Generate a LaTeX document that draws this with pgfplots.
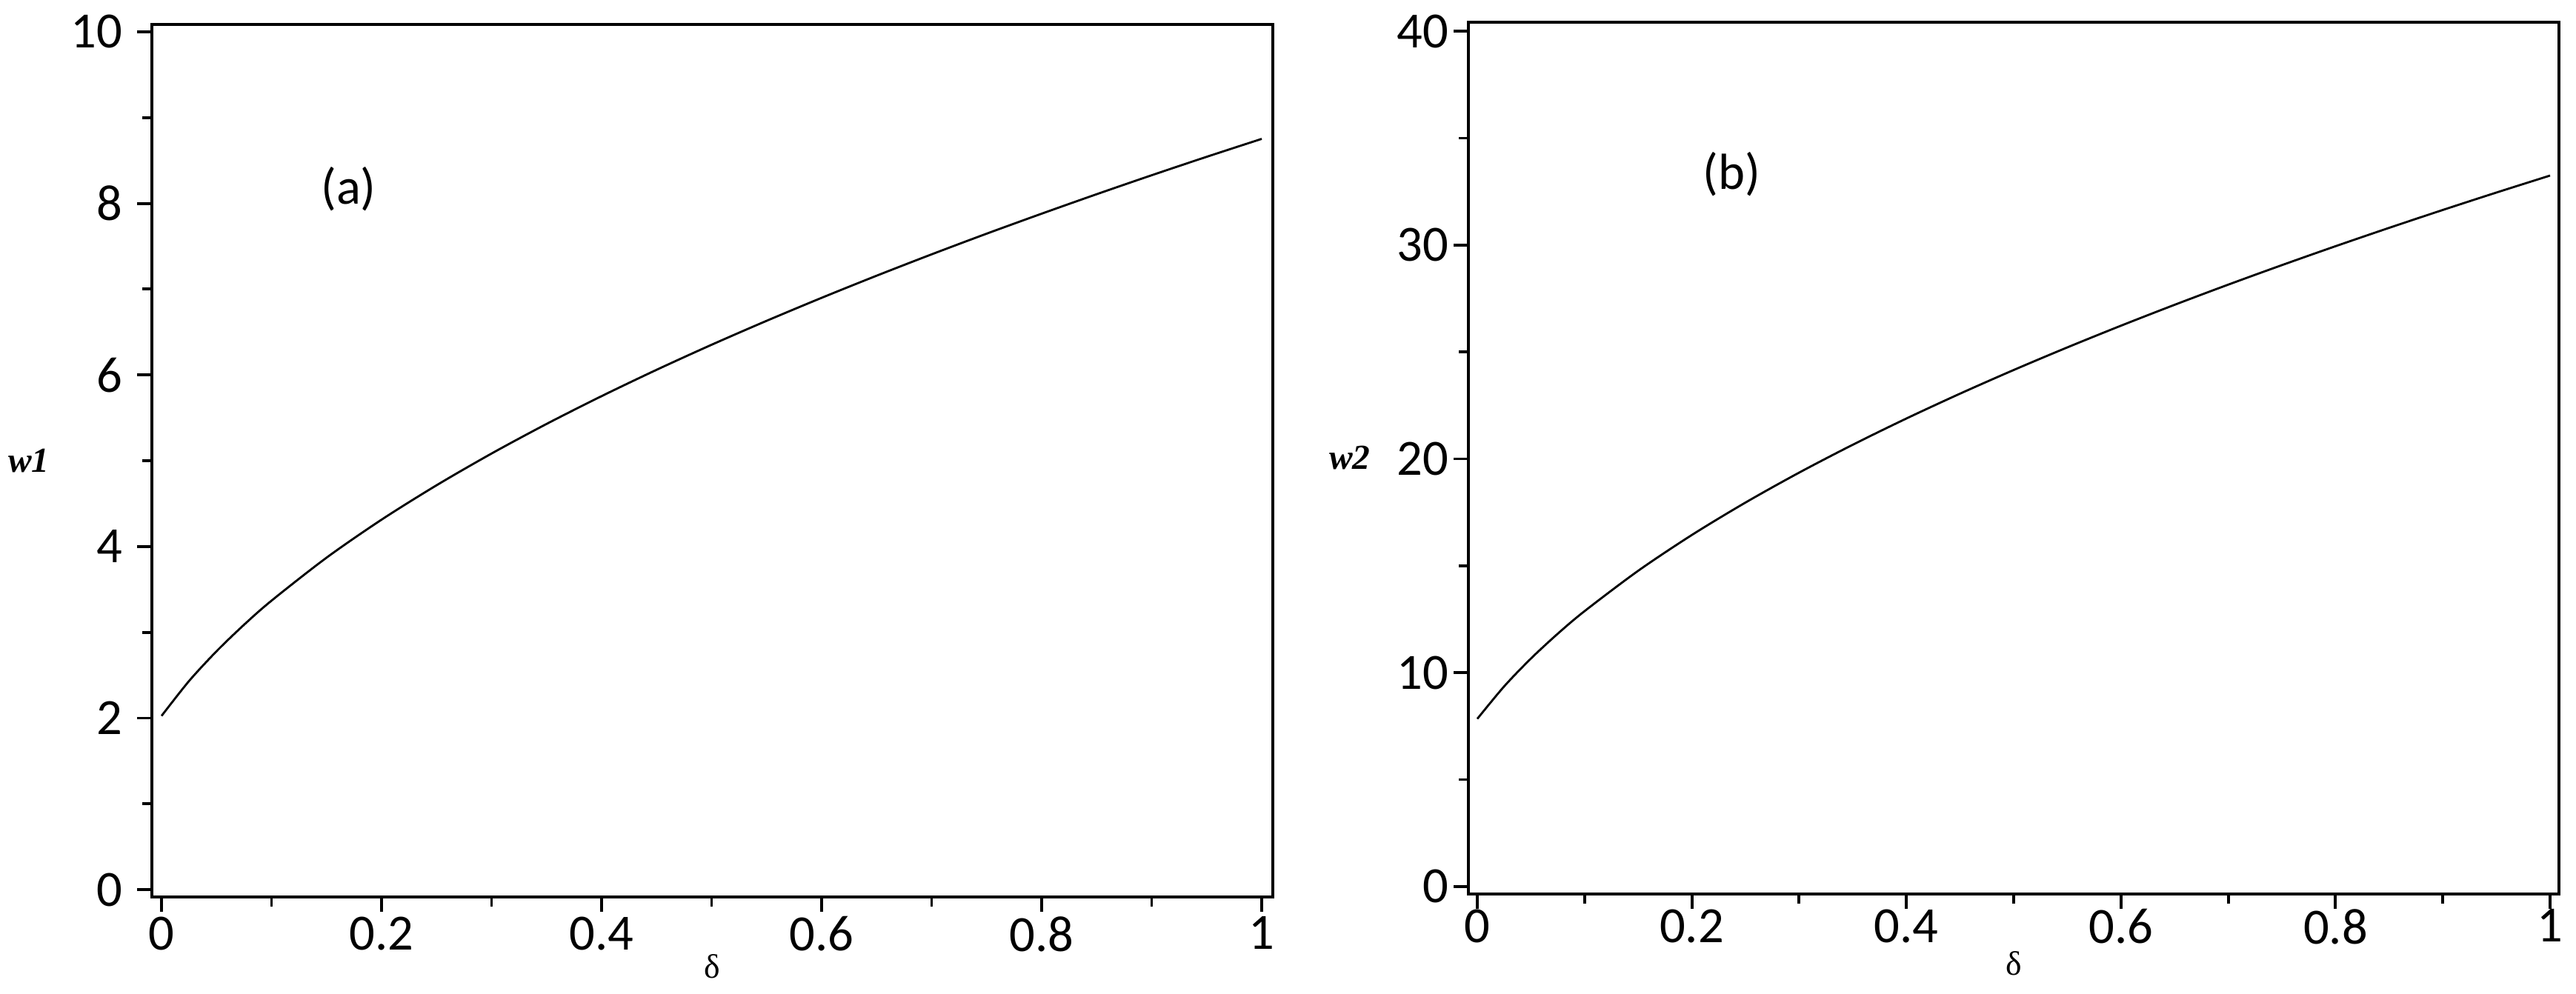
\documentclass[border=0pt]{standalone}
\usepackage{fontspec}
\setmainfont{Carlito}
\newfontfamily\labfont{Liberation Serif}
\usepackage{pgfplots}
\pgfplotsset{compat=1.18}

\pgfplotsset{
  panel/.style={
    scale only axis,
    axis line style={line width=1.15pt},
    every tick/.style={line width=1.1pt, black},
    tick align=outside,
    xtick pos=bottom, ytick pos=left,
    major tick length=0.2cm, minor tick length=0.13cm,
    minor x tick num=1, minor y tick num=1,
    xtick={0,0.2,0.4,0.6,0.8,1},
    xticklabels={0,0.2,0.4,0.6,0.8,1},
    tick label style={font=\fontsize{19.5}{23}\selectfont, inner sep=0pt},
    /pgf/number format/assume math mode=true,
    clip=false,
    every axis x label/.style={at={(rel axis cs:0.5,0)}, anchor=center, yshift=-0.94cm, font=\labfont\fontsize{13}{15}\selectfont},
    every axis y label/.style={at={(rel axis cs:0,0.5)}, anchor=center, font=\labfont\bfseries\itshape\fontsize{13.5}{15}\selectfont},
  }
}

\begin{document}
\begin{tikzpicture}
\path[use as bounding box] (0,0) rectangle (34.77,13.41);

% panel (a)
\begin{axis}[panel,
  at={(2.05cm,1.30cm)}, anchor=south west,
  width=15.13cm, height=11.78cm,
  xmin=-0.0088, xmax=1.0101, ymin=-0.086, ymax=10.086,
  ytick={0,2,4,6,8,10},
  xticklabel style={yshift=-0.06cm},
  yticklabel style={xshift=-0.19cm},
  xlabel={δ}, ylabel={w1},
  ylabel style={xshift=-1.66cm},
]
\addplot[black, line width=0.8pt, smooth] coordinates {
(0,2.025)(0.025,2.432)(0.05,2.779)(0.075,3.088)(0.1,3.369)(0.15,3.870)
(0.2,4.313)(0.25,4.714)(0.3,5.084)(0.35,5.429)(0.4,5.753)(0.45,6.060)
(0.5,6.352)(0.55,6.631)(0.6,6.899)(0.65,7.157)(0.7,7.406)(0.75,7.647)
(0.8,7.880)(0.85,8.107)(0.9,8.328)(0.95,8.543)(1,8.752)};
\node[font=\fontsize{19.5}{22}\selectfont] at (axis cs:0.17,8.17) {(a)};
\end{axis}

% panel (b)
\begin{axis}[panel,
  at={(19.82cm,1.34cm)}, anchor=south west,
  width=14.72cm, height=11.77cm,
  xmin=-0.0083, xmax=1.0083, ymin=-0.35, ymax=40.42,
  ytick={0,10,20,30,40}, minor y tick num=1,
  yticklabel style={xshift=-0.06cm},
  xlabel={δ}, ylabel={w2},
  ylabel style={xshift=-1.60cm},
]
\addplot[black, line width=0.8pt, smooth] coordinates {
(0,7.842)(0.025,9.359)(0.05,10.663)(0.075,11.824)(0.1,12.880)(0.15,14.768)
(0.2,16.441)(0.25,17.958)(0.3,19.357)(0.35,20.661)(0.4,21.888)(0.45,23.050)
(0.5,24.156)(0.55,25.213)(0.6,26.228)(0.65,27.205)(0.7,28.148)(0.75,29.060)
(0.8,29.945)(0.85,30.804)(0.9,31.640)(0.95,32.455)(1,33.249)};
\node[font=\fontsize{19.5}{22}\selectfont] at (axis cs:0.237,33.3) {(b)};
\end{axis}
\end{tikzpicture}
\end{document}
